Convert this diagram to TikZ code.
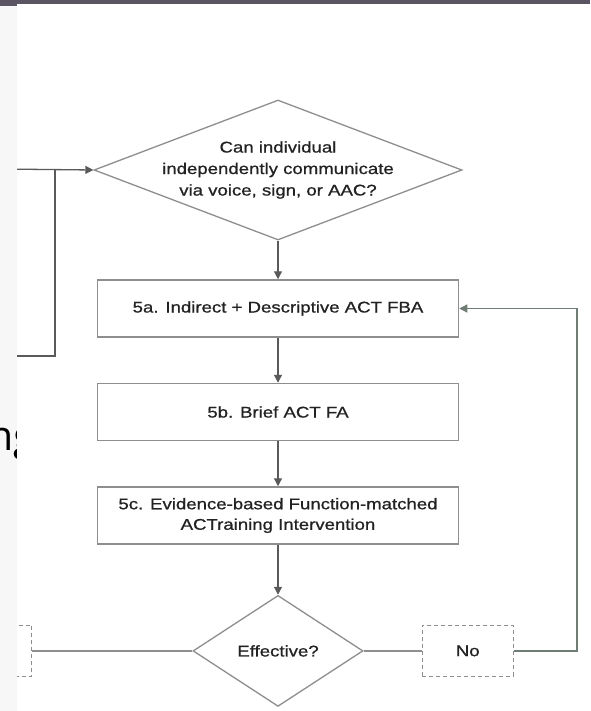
\documentclass[tikz,border=0pt]{standalone}
\usepackage{fontspec}
\setmainfont{Liberation Sans}[FakeStretch=1.2, FakeBold=0.8]
\newfontfamily\sidefont{Open Sans}
\usetikzlibrary{arrows.meta,calc,positioning,shapes.geometric}
\definecolor{bandgray}{HTML}{5B5462}
\definecolor{stripgray}{HTML}{F7F7F7}
\definecolor{boxgray}{HTML}{8E8E8E}
\definecolor{linegray}{HTML}{5A5A5A}
\definecolor{fbgray}{HTML}{6F7D74}
\definecolor{txtgray}{HTML}{222222}

\begin{document}
\begin{tikzpicture}[
    x=1pt, y=-1pt,
    font=\fontsize{15.5}{21.5}\selectfont,
    >={Triangle[length=8pt,width=8pt]},
    stepbox/.style={draw=boxgray, line width=1.5pt, minimum width=361pt, minimum height=57pt, align=center, text=txtgray},
    decision/.style={diamond, draw=boxgray, line width=1.3pt, inner sep=0pt, text=txtgray},
    qtext/.style={align=center, text=txtgray, inner sep=0pt},
    ghost/.style={draw=boxgray, dash pattern=on 4pt off 3pt, line width=1.2pt, minimum height=51pt, text=txtgray},
    link/.style={draw=linegray, line width=1.3pt},
]
\useasboundingbox[fill=white] (0,0) rectangle (590,711);

% ---- question and the three steps ----
\node[decision, minimum width=368pt, minimum height=140pt,
      label={[qtext]center:{Can individual\\independently communicate\\via voice, sign, or AAC?}}] (q1) at (278,170) {};

\node[stepbox] (s5a) at (278,308.5) {5a. Indirect + Descriptive ACT FBA};
\node[stepbox, below=45pt of s5a] (s5b) {5b. Brief ACT FA};
\node[stepbox, below=45pt of s5b, font=\fontsize{15.5}{20.5}\selectfont] (s5c)
    {5c. Evidence-based Function-matched\\ACTraining Intervention};

\node[decision, minimum width=170pt, minimum height=111pt, below=50pt of s5c] (eff) {Effective?};

\node[ghost, minimum width=91pt, right=58pt of eff] (no) {No};
\node[ghost, minimum width=80pt, left=160pt of eff] (lbox) {};

% ---- connectors ----
\coordinate (inA) at (0,169);
\coordinate (inB) at (0,356);
\coordinate (jn) at (55,169);
\coordinate (fb) at ($(no.east)+(63,0)$);

\draw[link, ->] (inA) -- (q1.west);
\draw[link] (inB) -| (jn);
\draw[link, ->] (q1.south) -- (s5a.north);
\draw[link, ->] (s5a) -- (s5b);
\draw[link, ->] (s5b) -- (s5c);
\draw[link, ->] (s5c) -- (eff.north);
\draw[link, draw=boxgray] (eff.west) -- (lbox.east);
\draw[link, draw=boxgray] (eff.east) -- (no.west);
\draw[link, draw=fbgray, ->] (no.east) -- (fb) |- (s5a.east);

% ---- cropped margins ----
\fill[stripgray] (0,6) rectangle (16.7,711);
\begin{scope}
  \clip (0,6) rectangle (16.7,711);
  \node[anchor=base west, inner sep=0pt, font=\sidefont\fontsize{41}{41}\selectfont] (frag) at (-12,450) {ng};
\end{scope}
\fill[bandgray] (0,0) rectangle (590,4);
\fill[bandgray] (0,0) rectangle (16.7,6);
\end{tikzpicture}
\end{document}
